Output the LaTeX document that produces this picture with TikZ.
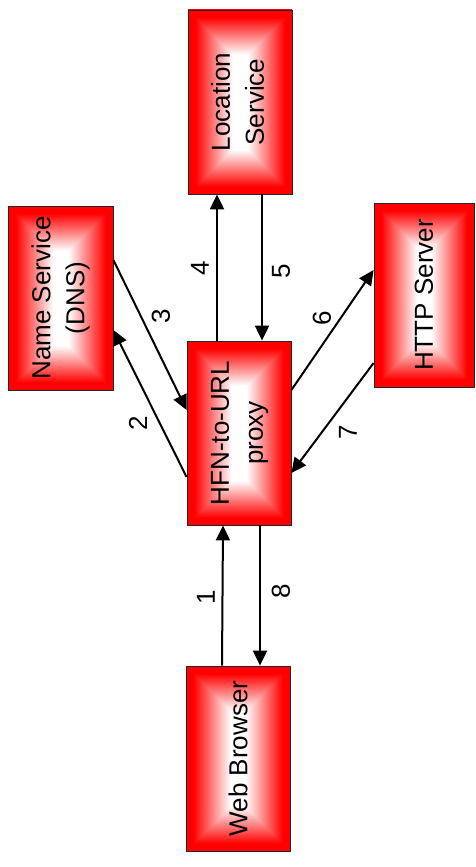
\documentclass[tikz,border=0pt]{standalone}
\usepackage{fontspec}
\setmainfont{Liberation Sans}
\usetikzlibrary{arrows.meta, positioning}

% red frame fading to white in the middle, same slope from each side
\pgfdeclarefunctionalshading{bevel}{\pgfpoint{-50bp}{-50bp}}{\pgfpoint{50bp}{50bp}}{}{%
  abs 25 exch sub 0.0708 mul
  exch abs 25 exch sub 0.04 mul
  2 copy gt {exch} if pop
  1.4 mul 0.2 sub
  dup 1 gt {pop 1} if
  dup 0 lt {pop 0} if
  1 exch dup
}

\tikzset{
    proc/.style={draw=black!85, line width=0.8pt, shading=bevel,
        minimum width=104pt, minimum height=184pt, inner sep=0pt,
        font=\fontsize{26}{34}\selectfont},
    flow/.style={-{Triangle[length=15pt, width=14pt]}, line width=2pt},
    num/.style={rotate=90, inner sep=0pt, font=\fontsize{26}{30}\selectfont}
}

\begin{document}
\begin{tikzpicture}[x=1pt, y=-1pt]
    \useasboundingbox (0, 0) rectangle (475, 867);

    \node[proc] (loc) at (240, 102) {\rotatebox{90}{\begin{tabular}{@{}c@{}}Location\\Service\end{tabular}}};
    \node[proc, minimum width=105pt] (dns) at (60.5, 298) {\rotatebox{90}{\begin{tabular}{@{}c@{}}Name Service\\(DNS)\end{tabular}}};
    \node[proc] (proxy) at (239, 433) {\rotatebox{90}{\begin{tabular}{@{}c@{}}HFN-to-URL\\proxy\end{tabular}}};
    \node[proc, minimum width=100pt] (http) at (424, 295) {\rotatebox{90}{HTTP Server}};
    \node[proc, minimum height=185pt] (web) at (238, 758.5) {\rotatebox{90}{Web Browser}};

    \draw[flow] ([xshift=-16pt]web.north) -- ([xshift=-16pt]proxy.south);
    \draw[flow] ([yshift=-44pt]proxy.west) -- ([yshift=-32pt]dns.east);
    \draw[flow] ([yshift=38pt]dns.east) -- ([yshift=23pt]proxy.west);
    \draw[flow] ([xshift=-22pt]proxy.north) -- ([xshift=-23pt]loc.south);
    \draw[flow] ([xshift=22pt]loc.south) -- ([xshift=23pt]proxy.north);
    \draw[flow] ([yshift=43pt]proxy.east) -- ([yshift=25pt]http.west);
    \draw[flow] ([yshift=-68pt]http.west) -- ([yshift=-40pt]proxy.east);
    \draw[flow] ([xshift=21pt]proxy.south) -- ([xshift=22pt]web.north);

    \node[num] (n1) at (206, 597) {1};
    \node[num] (n2) at (138, 423) {2};
    \node[num] (n3) at (161, 316) {3};
    \node[num] (n4) at (200, 268) {4};
    \node[num] (n5) at (281, 271) {5};
    \node[num] (n6) at (322, 318) {6};
    \node[num] (n7) at (348, 432) {7};
    \node[num] (n8) at (281, 591) {8};
\end{tikzpicture}
\end{document}
